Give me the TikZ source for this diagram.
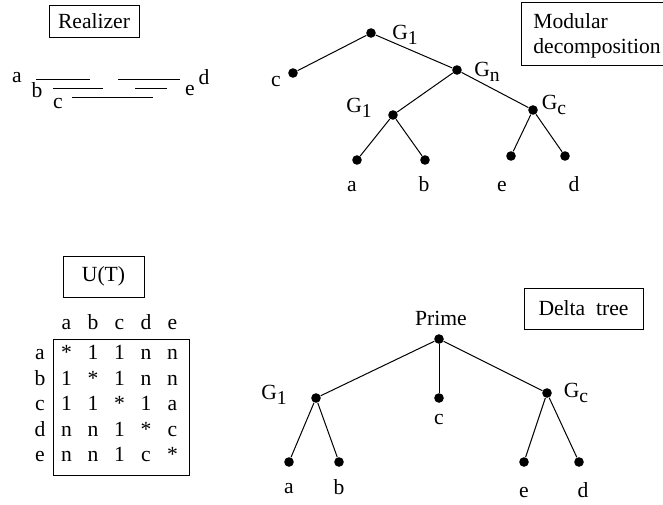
\documentclass[tikz,border=0pt]{standalone}
\usepackage{fontspec}
\setmainfont{Liberation Serif}
\newcommand{\Gs}[1]{G\raisebox{-0.55ex}{\fontsize{9.8}{10}\selectfont #1}}
\begin{document}
\begin{tikzpicture}[x=0.5pt,y=-0.5pt, font=\fontsize{10.8}{13}\selectfont,
  dot/.style={circle,fill,inner sep=0pt,minimum size=4.8pt},
  lbl/.style={inner sep=0pt},
  box/.style={draw,line width=0.5pt,inner sep=0pt},
  edge/.style={line width=0.5pt},
  bar/.style={line width=0.5pt}]
\path[use as bounding box] (0,0) rectangle (663,504);
\clip (0,0) rectangle (663,504);

% ---------- Realizer ----------
\node[box,minimum width=45pt,minimum height=16pt] (realizer) at (94,21) {Realizer};
\draw[bar] (36,79) -- (90,79);
\draw[bar] (118,79) -- (180,79);
\draw[bar] (53,88) -- (103,88);
\draw[bar] (135,88) -- (167,88);
\draw[bar] (72,97) -- (153,97);
\node[lbl] (ra) at (17,78) {a};
\node[lbl] (rb) at (37,90) {b};
\node[lbl] (rc) at (58,104) {c};
\node[lbl] (re) at (190,91) {e};
\node[lbl] (rd) at (204,77) {d};

% ---------- Modular decomposition ----------
\draw[line width=0.5pt] (670,2) -| (521,65) -- (670,65);
\node[lbl,anchor=base west] (modA) at (533,28) {Modular};
\node[lbl,anchor=base west] (modB) at (533,53) {decomposition};

\node[dot] (mr) at (371,33) {};
\node[dot] (mc) at (293,73) {};
\node[dot] (mn) at (457,70) {};
\node[dot] (mg) at (393,115) {};
\node[dot] (mgc) at (533,110) {};
\node[dot] (ma) at (357,160) {};
\node[dot] (mb) at (425,160) {};
\node[dot] (me) at (511,156) {};
\node[dot] (md) at (565,156) {};
\draw[edge] (mr) -- (mc);
\draw[edge] (mr) -- (mn);
\draw[edge] (mn) -- (mg);
\draw[edge] (mn) -- (mgc);
\draw[edge] (mg) -- (ma);
\draw[edge] (mg) -- (mb);
\draw[edge] (mgc) -- (me);
\draw[edge] (mgc) -- (md);
\node[lbl] (lmr) at (405,35) {\Gs{1}};
\node[lbl] (lmn) at (487,72) {\Gs{n}};
\node[lbl] (lmg) at (359,108) {\Gs{1}};
\node[lbl] (lmgc) at (554,105) {\Gs{c}};
\node[lbl] (lmc) at (276,82) {c};
\node[lbl] (lma) at (352,187) {a};
\node[lbl] (lmb) at (424,184) {b};
\node[lbl] (lme) at (502,187) {e};
\node[lbl] (lmd) at (574,184) {d};

% ---------- U(T) ----------
\node[box,minimum width=40.5pt,minimum height=20.5pt] (ut) at (103.5,276.5) {U(T)};
\node[box,minimum width=68pt,minimum height=68pt] (mbox) at (121,407) {};
\foreach \lab [count=\i] in {a,b,c,d,e} {
  \node[lbl,anchor=base] (h\i) at ({40+26.5*\i},329) {\lab};
  \node[lbl,anchor=base] (r\i) at (40,{334+25.5*\i}) {\lab};
}
\foreach \row [count=\i] in {{*,1,1,n,n},{1,*,1,n,n},{1,1,*,1,a},{n,n,1,*,c},{n,n,1,c,*}} {
  \foreach \v [count=\j] in \row {
    \node[lbl,anchor=base] (m\i\j) at ({40+26.5*\j},{334+25.5*\i}) {\v};
  }
}

% ---------- Delta tree ----------
\node[box,minimum width=59.5pt,minimum height=20.5pt] (delta) at (583.5,308.5) {Delta\ \ tree};
\node[dot] (dp) at (439,339) {};
\node[dot] (dg) at (316,398) {};
\node[dot] (dc) at (439,398) {};
\node[dot] (dgc) at (547,393) {};
\node[dot] (da) at (289,462) {};
\node[dot] (db) at (339,462) {};
\node[dot] (de) at (524,462) {};
\node[dot] (dd) at (579,462) {};
\draw[edge] (dp) -- (dg);
\draw[edge] (dp) -- (dc);
\draw[edge] (dp) -- (dgc);
\draw[edge] (dg) -- (da);
\draw[edge] (dg) -- (db);
\draw[edge] (dgc) -- (de);
\draw[edge] (dgc) -- (dd);
\node[lbl] (ldp) at (441,318) {Prime};
\node[lbl] (ldg) at (274,395) {\Gs{1}};
\node[lbl] (ldgc) at (576,393) {\Gs{c}};
\node[lbl] (ldc) at (439,420) {c};
\node[lbl] (lda) at (289,489) {a};
\node[lbl] (ldb) at (339,487) {b};
\node[lbl] (lde) at (524,493) {e};
\node[lbl] (ldd) at (583,490) {d};
\end{tikzpicture}
\end{document}
